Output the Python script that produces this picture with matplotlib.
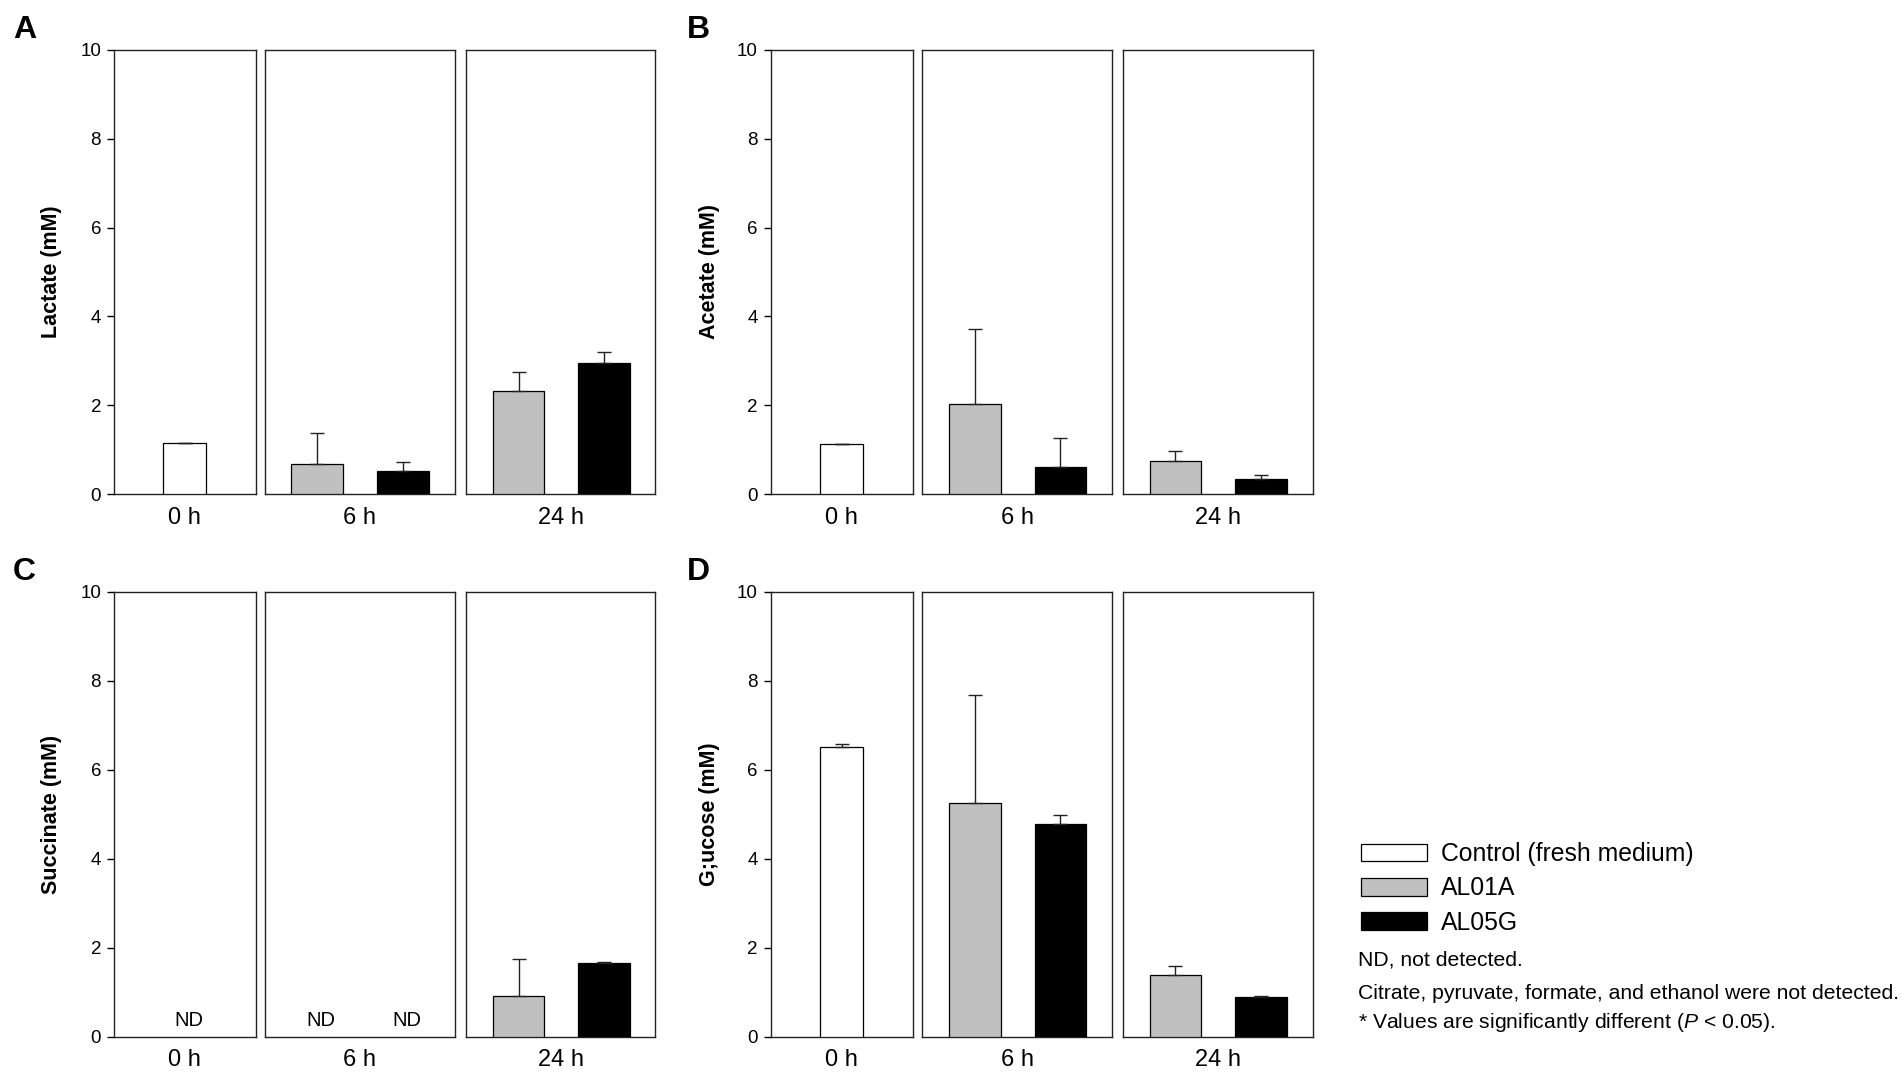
import numpy as np
import matplotlib
matplotlib.use("Agg")
import matplotlib.pyplot as plt

plt.rcParams['font.family'] = ['Liberation Sans', 'DejaVu Sans']
plt.rcParams['mathtext.fontset'] = 'custom'
plt.rcParams['mathtext.it'] = 'Liberation Sans:italic'
plt.rcParams['mathtext.rm'] = 'Liberation Sans'

# data (mM); nan = not detected
times = ['0 h', '6 h', '24 h']
series = ['Control (fresh medium)', 'AL01A', 'AL05G']
colors = ['white', '#c0c0c0', 'black']

lactate_ctrl = [1.15]
lactate_ctrl_err = [0.0]
lactate_al01a = [0.69, 2.33]
lactate_al01a_err = [0.68, 0.43]
lactate_al05g = [0.52, 2.96]
lactate_al05g_err = [0.20, 0.25]

acetate_ctrl = [1.14]
acetate_ctrl_err = [0.0]
acetate_al01a = [2.02, 0.74]
acetate_al01a_err = [1.69, 0.23]
acetate_al05g = [0.62, 0.35]
acetate_al05g_err = [0.65, 0.09]

succinate_ctrl = [np.nan]
succinate_ctrl_err = [0.0]
succinate_al01a = [np.nan, 0.92]
succinate_al01a_err = [0.0, 0.82]
succinate_al05g = [np.nan, 1.65]
succinate_al05g_err = [0.0, 0.03]

glucose_ctrl = [6.50]
glucose_ctrl_err = [0.07]
glucose_al01a = [5.24, 1.38]
glucose_al01a_err = [2.44, 0.20]
glucose_al05g = [4.78, 0.88]
glucose_al05g_err = [0.21, 0.03]

panels = [
    ('A', 'Lactate (mM)', lactate_ctrl, lactate_ctrl_err, lactate_al01a, lactate_al01a_err, lactate_al05g, lactate_al05g_err),
    ('B', 'Acetate (mM)', acetate_ctrl, acetate_ctrl_err, acetate_al01a, acetate_al01a_err, acetate_al05g, acetate_al05g_err),
    ('C', 'Succinate (mM)', succinate_ctrl, succinate_ctrl_err, succinate_al01a, succinate_al01a_err, succinate_al05g, succinate_al05g_err),
    ('D', 'G;ucose (mM)', glucose_ctrl, glucose_ctrl_err, glucose_al01a, glucose_al01a_err, glucose_al05g, glucose_al05g_err),
]

notes = ['ND, not detected.',
         'Citrate, pyruvate, formate, and ethanol were not detected.',
         '* Values are significantly different ($P$ < 0.05).']

W, H = 1902, 1075
fig = plt.figure(figsize=(W / 100, H / 100), dpi=100)

# pixel layout of the sub panels (left, right) and rows (top, bottom)
col_x = [[(113.6, 255.7), (264.6, 455.0), (466.4, 655.4)],
         [(770.5, 912.7), (922.4, 1112.0), (1123.0, 1312.6)]]
row_y = [(49.7, 494.2), (591.7, 1036.5)]
letter_x = [13, 687]
label_x = [52, 710]

def rect(x0, x1, y0, y1):
    return [x0 / W, 1 - y1 / H, (x1 - x0) / W, (y1 - y0) / H]

ek = dict(lw=1.0, ecolor='#222222', capthick=1.0)
for i, (letter, ylab, c, ce, a, ae, g, ge) in enumerate(panels):
    r, col = divmod(i, 2)
    y0, y1 = row_y[r]
    axs = []
    for j, (x0, x1) in enumerate(col_x[col]):
        ax = fig.add_axes(rect(x0, x1, y0, y1))
        ax.set_xlim(0, 1)
        ax.set_ylim(0, 10)
        for s in ax.spines.values():
            s.set_linewidth(1.0)
            s.set_color('#222222')
        ax.set_xticks([0.5])
        ax.set_xticklabels([times[j]], fontsize=17)
        ax.tick_params(axis='x', length=0, pad=9)
        if j == 0:
            ax.set_yticks(np.arange(0, 11, 2))
            ax.tick_params(axis='y', direction='out', length=5, width=1.0, labelsize=13.5, pad=4)
        else:
            ax.set_yticks([])
        axs.append(ax)

    # 0 h: control only
    axs[0].bar([0.5], c, width=0.30, color=colors[0], edgecolor='black', lw=0.9,
               yerr=[[0] * len(c), ce], capsize=4.8, error_kw=ek, zorder=3)
    if np.isnan(c[0]):
        axs[0].text(0.53, 0.15, 'ND', ha='center', va='bottom', fontsize=14.5)
    # 6 h and 24 h: two strains
    for k, ax in enumerate(axs[1:]):
        for pos, vals, errs, colr in [(0.276, a, ae, colors[1]), (0.728, g, ge, colors[2])]:
            v = vals[k]
            if np.isnan(v):
                ax.text(pos + 0.02, 0.15, 'ND', ha='center', va='bottom', fontsize=14.5)
                continue
            ax.bar([pos], [v], width=0.272, color=colr, edgecolor='black', lw=0.9,
                   yerr=[[0], [errs[k]]], capsize=4.8, error_kw=ek, zorder=3)

    fig.text(letter_x[col] / W, 1 - (y0 - 20) / H, letter, fontsize=23, fontweight='bold',
             ha='left', va='center')
    fig.text(label_x[col] / W, 1 - (y0 + y1) / 2 / H, ylab, fontsize=15.5, fontweight='bold',
             rotation=90, ha='center', va='center')

legend_handles = [plt.Rectangle((0, 0), 1, 1, facecolor=cl, edgecolor='black', lw=0.9)
                  for cl in colors]
fig.legend(legend_handles, series, loc='upper left',
           bbox_to_anchor=(1361 / W, 1 - 842 / H), frameon=False,
           fontsize=17.8, handlelength=2.67, handleheight=0.72,
           handletextpad=0.55, labelspacing=0.42, borderpad=0, borderaxespad=0)

for n, yy in zip(notes, [960.0, 993.5, 1022.5]):
    fig.text(1358 / W, 1 - yy / H, n, fontsize=15.2, ha='left', va='center')

fig.savefig('out.png', dpi=100)
